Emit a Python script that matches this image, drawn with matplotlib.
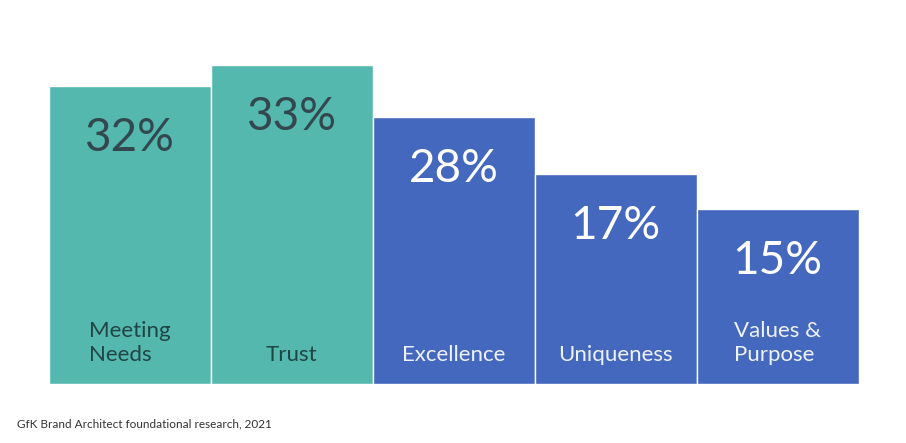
import matplotlib
matplotlib.use("Agg")
import matplotlib.pyplot as plt

categories = ["Meeting\nNeeds", "Trust", "Excellence", "Uniqueness", "Values &\nPurpose"]
pct_labels = [32, 33, 28, 17, 15]
# drawn bar heights (the picture is not to scale with the labels)
bar_heights = [29.8, 31.9, 26.7, 21.0, 17.5]
groups = ["teal", "teal", "blue", "blue", "blue"]
source = "GfK Brand Architect foundational research, 2021"

fill = {"teal": "#55b8af", "blue": "#4468bd"}
ink = {"teal": "#33474e", "blue": "#ffffff"}
cat_ink = {"teal": "#1f4544", "blue": "#eef2fb"}

W, H = 906, 443
fig = plt.figure(figsize=(W / 100, H / 100), dpi=100)
ax = fig.add_axes([48.5 / W, 59 / H, 810 / W, 384 / H])
ax.set_xlim(-0.5, 4.5)
ax.set_ylim(0, 38.4)
ax.axis("off")

xs = range(len(categories))
ax.bar(xs, bar_heights, width=1.0, color=[fill[g] for g in groups],
       edgecolor="white", linewidth=1.0)

for x, h, v, cat, g in zip(xs, bar_heights, pct_labels, categories, groups):
    ax.text(x, h - 5.2, f"{v}%", ha="center", va="center", fontsize=33,
            family="Lato", color=ink[g])
    ax.text(x, 2.3, cat, ha="center", va="baseline", fontsize=16,
            family="Lato", color=cat_ink[g], multialignment="left",
            linespacing=1.25)

fig.text(17 / W, 1 - 424 / H, source, ha="left", va="center", fontsize=8.5,
         family="Lato", color="#333333")

fig.savefig("out.png", dpi=100)
